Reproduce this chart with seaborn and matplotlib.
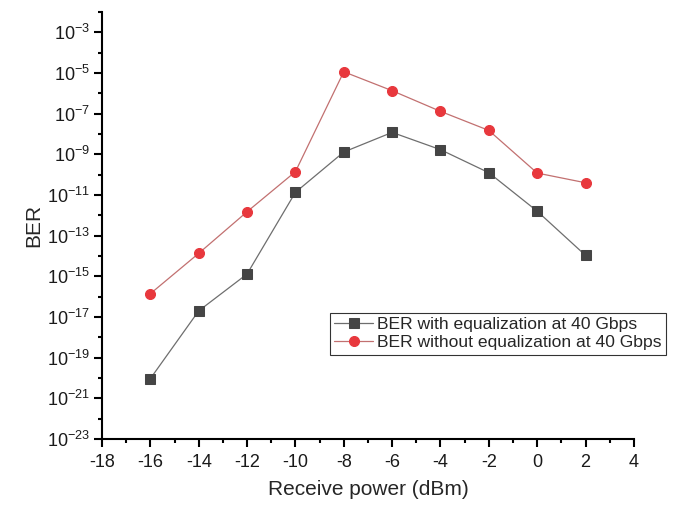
import numpy as np
import pandas as pd
import seaborn as sns
import matplotlib
matplotlib.use("Agg")
import matplotlib.pyplot as plt
from matplotlib.ticker import FixedLocator, FuncFormatter, NullFormatter

# data
power = [-16, -14, -12, -10, -8, -6, -4, -2, 0, 2]
ber_eq = [9.3e-21, 2e-17, 1.3e-15, 1.35e-11, 1.3e-9, 1.2e-8, 1.7e-9, 1.25e-10, 1.6e-12, 1.07e-14]
ber_no_eq = [1.4e-16, 1.35e-14, 1.5e-12, 1.4e-10, 1.15e-5, 1.35e-6, 1.3e-7, 1.5e-8, 1.2e-10, 4e-11]
labels = ["BER with equalization at 40 Gbps", "BER without equalization at 40 Gbps"]

sns.set_style("ticks")
plt.rcParams['font.family'] = ['Liberation Sans', 'DejaVu Sans']
plt.rcParams['mathtext.fontset'] = 'custom'
plt.rcParams['mathtext.rm'] = 'Liberation Sans'
plt.rcParams['mathtext.it'] = 'Liberation Sans'
plt.rcParams['axes.unicode_minus'] = False

fig = plt.figure(figsize=(6.75, 5.11), dpi=100)
ax = fig.add_axes([0.1511, 0.1409, 0.788, 0.8356])
ax.set_yscale('log')

df = pd.DataFrame({'x': power, 'eq': ber_eq, 'noeq': ber_no_eq})
sns.lineplot(data=df, x='x', y='eq', ax=ax, color='#6e6e6e', lw=0.9,
             marker='s', markersize=7, markerfacecolor='#454545',
             markeredgecolor='#454545', label=labels[0])
sns.lineplot(data=df, x='x', y='noeq', ax=ax, color='#c27070', lw=0.9,
             marker='o', markersize=7.2, markerfacecolor='#e8383d',
             markeredgecolor='#e8383d', label=labels[1])

ax.set_xlim(-18, 4)
ax.set_ylim(1e-23, 1e-2)
ax.set_xticks(range(-18, 5, 2))
ax.set_xticks(range(-17, 5, 2), minor=True)
ax.yaxis.set_major_locator(FixedLocator(10.0 ** np.arange(-23, -2, 2)))
ax.yaxis.set_minor_locator(FixedLocator(10.0 ** np.arange(-22, -1, 2)))
ax.yaxis.set_major_formatter(FuncFormatter(
    lambda v, p: r'$\mathregular{10^{%d}}$' % round(np.log10(v))))
ax.yaxis.set_minor_formatter(NullFormatter())

for s in ['top', 'right']:
    ax.spines[s].set_visible(False)
for s in ['left', 'bottom']:
    ax.spines[s].set_linewidth(1.5)
    ax.spines[s].set_color('black')
ax.tick_params(which='major', length=5.5, width=1.5, direction='out', colors='black')
ax.tick_params(which='minor', length=3, width=1.5, direction='out', colors='black')
ax.tick_params(axis='x', labelsize=13, labelcolor='#1a1a1a', pad=5)
ax.tick_params(axis='y', labelsize=13, labelcolor='#1a1a1a', pad=3)

ax.set_xlabel('Receive power (dBm)', fontsize=15, labelpad=7)
ax.set_ylabel('BER', fontsize=15, labelpad=3)

leg = ax.legend(loc='upper left', bbox_to_anchor=(0.489, 0.388),
                bbox_transform=fig.transFigure, fontsize=12.6, frameon=True,
                fancybox=False, handlelength=2.2, borderpad=0.25,
                labelspacing=0.15, handletextpad=0.25, borderaxespad=0)
leg.get_frame().set_edgecolor('black')
leg.get_frame().set_linewidth(0.8)

fig.savefig('out.png', dpi=100)
